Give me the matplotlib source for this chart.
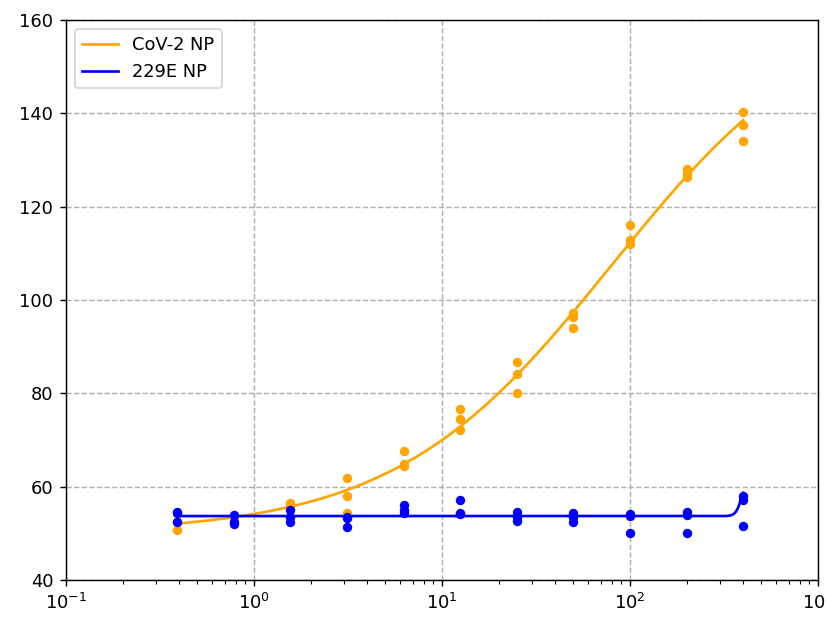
import numpy as np
import matplotlib
matplotlib.use("Agg")
import matplotlib.pyplot as plt

# concentrations (two-fold dilution series)
conc = [0.390625, 0.78125, 1.5625, 3.125, 6.25, 12.5, 25, 50, 100, 200, 400]

# triplicate readings per concentration
cov2_np = [
    [52.4, 50.7, 52.6],
    [53.9, 53.6, 53.2],
    [56.6, 56.2, 55.5],
    [61.8, 57.9, 54.4],
    [67.7, 64.4, 64.8],
    [76.6, 74.4, 72.1],
    [86.8, 84.1, 80.0],
    [97.3, 96.4, 94.1],
    [116.1, 112.9, 112.0],
    [128.1, 127.1, 126.3],
    [140.3, 137.5, 134.1],
]
e229_np = [
    [54.6, 54.3, 52.5],
    [53.9, 52.1, 52.5],
    [54.9, 53.4, 52.5],
    [53.2, 51.3, 53.6],
    [56.1, 55.0, 54.3],
    [57.1, 54.1, 54.3],
    [54.6, 52.6, 53.6],
    [54.3, 52.5, 53.5],
    [54.1, 53.7, 50.0],
    [54.6, 53.9, 50.0],
    [58.0, 57.1, 51.6],
]

# 4PL fit parameters (bottom, top, ec50, hill)
cov2_fit = (50.0, 165.0, 80.0, 0.75)
e229_fit = (53.7, 61.0, 390.0, 30.0)


def four_pl(x, bottom, top, ec50, hill):
    return top + (bottom - top) / (1 + (x / ec50) ** hill)


fig = plt.figure(figsize=(826 / 129, 621 / 129), dpi=129)
ax = fig.add_axes([66 / 826, 41 / 621, 752 / 826, 560 / 621])

xs = np.logspace(np.log10(conc[0]), np.log10(conc[-1]), 400)
ax.plot(xs, four_pl(xs, *cov2_fit), color="orange", label="CoV-2 NP")
ax.plot(xs, four_pl(xs, *e229_fit), color="blue", label="229E NP")

for c, reps in zip(conc, cov2_np):
    ax.scatter([c] * len(reps), reps, color="orange", s=18, zorder=3)
for c, reps in zip(conc, e229_np):
    ax.scatter([c] * len(reps), reps, color="blue", s=18, zorder=3)

ax.set_xscale("log")
ax.set_xlim(0.1, 1000)
ax.set_ylim(40, 160)
ax.grid(True, linestyle="--", color="#b0b0b0")
ax.set_axisbelow(True)
ax.legend(loc="upper left")

fig.savefig("out.png", dpi=129)
